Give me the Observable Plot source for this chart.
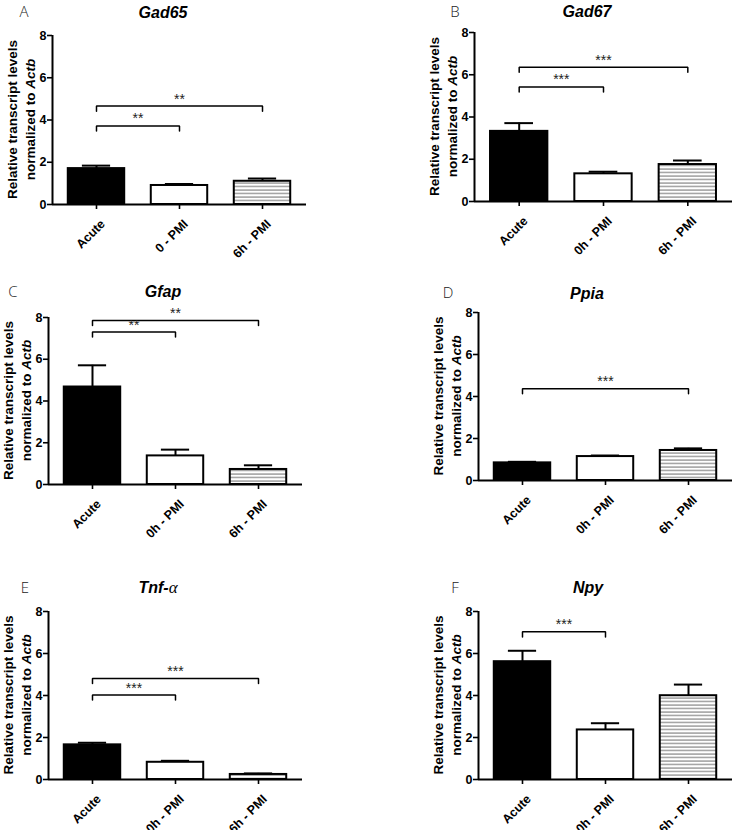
<!DOCTYPE html>
<html>
<head>
<meta charset="utf-8">
<script src="https://cdn.jsdelivr.net/npm/d3@7"></script>
<script src="https://cdn.jsdelivr.net/npm/@observablehq/plot@0.6"></script>
<style>
  body { margin: 0; background: #fff; }
  #root { position: relative; width: 733px; height: 830px; overflow: hidden; background: #fff; }
  #root svg.panel { position: absolute; overflow: visible; }
  #root [aria-label^="x-axis"] line, #root [aria-label^="x-axis"] path,
  #root [aria-label^="y-axis"] line, #root [aria-label^="y-axis"] path { stroke-width: 1.6px; }
</style>
</head>
<body>
<svg width="0" height="0" style="position:absolute">
  <defs>
    <pattern id="hstripes" patternUnits="userSpaceOnUse" width="8" height="3.5">
      <rect width="8" height="3.5" fill="white"></rect>
      <line x1="0" x2="8" y1="1" y2="1" stroke="#6e6e6e" stroke-width="1"></line>
    </pattern>
  </defs>
</svg>
<div id="root"></div>
<script>
// ---------- data ----------
const groupsA = ["Acute", "0 - PMI", "6h - PMI"];
const groups = ["Acute", "0h - PMI", "6h - PMI"];
const genes = ["Gad65", "Gad67", "Gfap", "Ppia", "Tnf-", "Npy"];
const letters = ["A", "B", "C", "D", "E", "F"];
const yTicks = [0, 2, 4, 6, 8];

const gad65Mean = [1.70, 0.90, 1.10];
const gad65Sem  = [0.14, 0.07, 0.13];
const gad67Mean = [3.32, 1.31, 1.75];
const gad67Sem  = [0.39, 0.10, 0.19];
const gfapMean  = [4.67, 1.37, 0.72];
const gfapSem   = [1.04, 0.30, 0.20];
const ppiaMean  = [0.84, 1.14, 1.43];
const ppiaSem   = [0.05, 0.05, 0.10];
const tnfMean   = [1.65, 0.82, 0.24];
const tnfSem    = [0.10, 0.07, 0.05];
const npyMean   = [5.61, 2.36, 3.99];
const npySem    = [0.52, 0.32, 0.53];

const gad65Sig = [{from: 0, to: 1, level: 3.72, label: "**"}, {from: 0, to: 2, level: 4.66, label: "**"}];
const gad67Sig = [{from: 0, to: 1, level: 5.42, label: "***"}, {from: 0, to: 2, level: 6.36, label: "***"}];
const gfapSig  = [{from: 0, to: 1, level: 7.30, label: "**"}, {from: 0, to: 2, level: 7.86, label: "**"}];
const ppiaSig  = [{from: 0, to: 2, level: 4.37, label: "***"}];
const tnfSig   = [{from: 0, to: 1, level: 4.02, label: "***"}, {from: 0, to: 2, level: 4.81, label: "***"}];
const npySig   = [{from: 0, to: 1, level: 7.03, label: "***"}];

const panels = [
  {gene: genes[0], letter: letters[0], cats: groupsA, mean: gad65Mean, sem: gad65Sem, sig: gad65Sig},
  {gene: genes[1], letter: letters[1], cats: groups, mean: gad67Mean, sem: gad67Sem, sig: gad67Sig},
  {gene: genes[2], letter: letters[2], cats: groups, mean: gfapMean, sem: gfapSem, sig: gfapSig},
  {gene: genes[3], letter: letters[3], cats: groups, mean: ppiaMean, sem: ppiaSem, sig: ppiaSig},
  {gene: genes[4], letter: letters[4], cats: groups, mean: tnfMean, sem: tnfSem, sig: tnfSig, greek: "α"},
  {gene: genes[5], letter: letters[5], cats: groups, mean: npyMean, sem: npySem, sig: npySig}
];

// ---------- layout (page coordinates) ----------
const layout = [
  {left: 0,   top: 0,   width: 366, height: 270, ml: 52,  mr: 60, mt: 35, mb: 66, titleX: 163, titleY: 18,  letterX: 24,  letterY: 17},
  {left: 366, top: 0,   width: 367, height: 270, ml: 108, mr: 1,  mt: 32, mb: 69, titleX: 587, titleY: 17,  letterX: 455, letterY: 17},
  {left: 0,   top: 270, width: 366, height: 280, ml: 48,  mr: 64, mt: 47, mb: 66, titleX: 163, titleY: 297, letterX: 13,  letterY: 297},
  {left: 366, top: 270, width: 367, height: 280, ml: 112, mr: 1,  mt: 42, mb: 70, titleX: 587, titleY: 299, letterX: 448, letterY: 298},
  {left: 0,   top: 550, width: 366, height: 280, ml: 48,  mr: 64, mt: 61, mb: 51, titleX: 158, titleY: 593, letterX: 25,  letterY: 593},
  {left: 366, top: 550, width: 367, height: 280, ml: 112, mr: 1,  mt: 61, mb: 51, titleX: 588, titleY: 593, letterX: 455, letterY: 593}
];

const xDomain = [-0.53, 2.53];
const barHalf = 0.34, capHalf = 0.17, tickDrop = 0.24;
const fills = ["black", "white", "url(#hstripes)"];
const font = "'Liberation Sans', Arial, sans-serif";
const root = document.getElementById("root");

panels.forEach((p, k) => {
  const L = layout[k];
  const rows = p.mean.map((m, i) => ({i, mean: m, top: m + p.sem[i], name: p.cats[i]}));
  const bracketPts = p.sig.flatMap((s, j) => [
    {j, x: s.from, y: s.level - tickDrop},
    {j, x: s.from, y: s.level},
    {j, x: s.to, y: s.level},
    {j, x: s.to, y: s.level - tickDrop}
  ]);
  const marks = [];
  rows.forEach(r => {
    marks.push(Plot.rect([r], {
      x1: d => d.i - barHalf, x2: d => d.i + barHalf,
      y1: d => 0, y2: d => d.mean,
      fill: fills[r.i], stroke: "black", strokeWidth: 2
    }));
  });
  marks.push(
    Plot.ruleX(rows, {x: "i", y1: "mean", y2: "top", stroke: "black", strokeWidth: 2}),
    Plot.ruleY(rows, {y: "top", x1: d => d.i - capHalf, x2: d => d.i + capHalf, stroke: "black", strokeWidth: 2}),
    Plot.ruleY([0], {stroke: "black", strokeWidth: 2}),
    Plot.ruleX([xDomain[0]], {y1: 0, y2: 8, stroke: "black", strokeWidth: 2}),
    Plot.line(bracketPts, {x: "x", y: "y", z: "j", stroke: "black", strokeWidth: 1.5, strokeLinejoin: "miter"}),
    Plot.text(p.sig, {x: d => (d.from + d.to) / 2, y: "level", text: "label", dy: -7, fontSize: 14, fontWeight: "normal", fill: "#222"}),
    // category labels under the x ticks
    Plot.text(rows, {x: "i", y: d => 0, text: "name", rotate: -45, textAnchor: "end", lineAnchor: "top", dx: 3, dy: 14, fontSize: 12.5, fontWeight: "bold", fill: "black"})
  );

  const svg = Plot.plot({
    width: L.width, height: L.height,
    marginLeft: L.ml, marginRight: L.mr, marginTop: L.mt, marginBottom: L.mb,
    x: {domain: xDomain, ticks: [0, 1, 2], tickFormat: () => "", tickSize: 5, tickPadding: 2, label: null},
    y: {domain: [0, 8], ticks: yTicks, tickSize: 5, tickPadding: 1, label: null},
    style: {fontFamily: font, fontWeight: "bold", fontSize: "12.5px", background: "transparent", overflow: "visible", color: "black"},
    marks
  });
  svg.classList.add("panel");
  svg.style.left = L.left + "px";
  svg.style.top = L.top + "px";

  const s = d3.select(svg);
  const yMid = L.mt + (L.height - L.mt - L.mb) / 2;
  // y-axis title (two lines, Actb italic)
  s.append("text")
    .attr("transform", `translate(${L.ml - 35.5},${yMid}) rotate(-90)`)
    .attr("text-anchor", "middle")
    .attr("font-family", font)
    .attr("font-weight", "bold").attr("font-size", 13.5).attr("fill", "black")
    .text("Relative transcript levels");
  const t2 = s.append("text")
    .attr("transform", `translate(${L.ml - 17.5},${yMid}) rotate(-90)`)
    .attr("text-anchor", "middle")
    .attr("font-family", font)
    .attr("font-weight", "bold").attr("font-size", 13.5).attr("fill", "black");
  t2.append("tspan").text("normalized to ");
  t2.append("tspan").attr("font-style", "italic").text("Actb");

  // panel title
  const tt = s.append("text")
    .attr("x", L.titleX - L.left).attr("y", L.titleY - L.top)
    .attr("text-anchor", "middle")
    .attr("font-family", font)
    .attr("font-weight", "bold").attr("font-style", "italic").attr("font-size", 16).attr("fill", "black");
  tt.append("tspan").text(p.gene);
  if (p.greek) {
    tt.append("tspan").attr("font-family", "'Liberation Serif', 'DejaVu Serif', serif")
      .attr("font-weight", "normal").attr("font-size", 17).text(p.greek);
  }

  // panel letter
  s.append("text")
    .attr("x", L.letterX - L.left).attr("y", L.letterY - L.top)
    .attr("font-family", "'Open Sans', 'DejaVu Sans', sans-serif")
    .attr("font-weight", 300).attr("font-size", 15).attr("fill", "#222")
    .text(p.letter);

  root.appendChild(svg);
});
</script>
</body>
</html>
